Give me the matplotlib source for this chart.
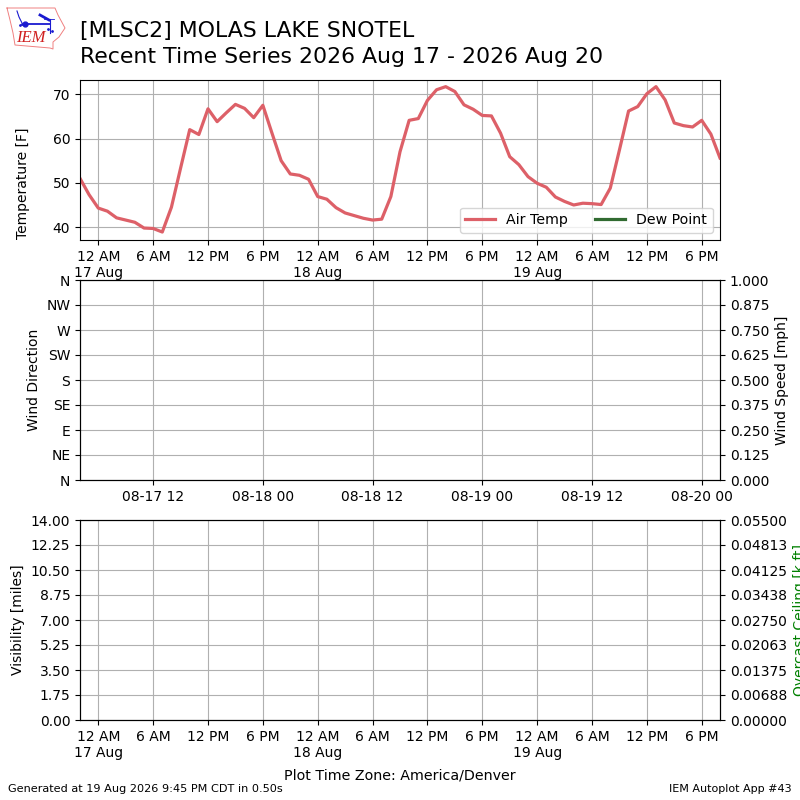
import datetime as dt
from zoneinfo import ZoneInfo
import matplotlib
matplotlib.use("Agg")
import matplotlib.pyplot as plt
import matplotlib.dates as mdates
from matplotlib.ticker import FuncFormatter

TZ = ZoneInfo("America/Denver")
UTC = ZoneInfo("UTC")

start_time = dt.datetime(2026, 8, 16, 22, 0, tzinfo=TZ)
air_temp = [51.0, 47.3, 44.3, 43.6, 42.1, 41.6, 41.1, 39.8, 39.7, 38.9, 44.5, 53.3,
            62.0, 60.9, 66.7, 63.8, 65.8, 67.7, 66.8, 64.7, 67.5, 61.2, 55.0, 52.0,
            51.7, 50.8, 46.9, 46.3, 44.4, 43.2, 42.6, 42.0, 41.6, 41.8, 46.9, 57.0,
            64.1, 64.5, 68.6, 71.0, 71.7, 70.6, 67.6, 66.6, 65.2, 65.1, 61.2, 55.9,
            54.1, 51.4, 49.9, 49.0, 46.8, 45.8, 45.0, 45.4, 45.3, 45.1, 48.8, 57.4,
            66.2, 67.2, 70.1, 71.7, 68.7, 63.5, 62.9, 62.6, 64.1, 61.0, 55.6]
times = [start_time + dt.timedelta(hours=i) for i in range(len(air_temp))]
dew_point = []
dew_times = []

direction_ticks = [0, 45, 90, 135, 180, 225, 270, 315, 360]
direction_labels = ["N", "NE", "E", "SE", "S", "SW", "W", "NW", "N"]
speed_ticks = [0, 0.125, 0.25, 0.375, 0.5, 0.625, 0.75, 0.875, 1.0]
vis_ticks = [0, 1.75, 3.5, 5.25, 7.0, 8.75, 10.5, 12.25, 14.0]
ceil_ticks = [0, 0.006875, 0.01375, 0.020625, 0.0275, 0.034375, 0.04125, 0.048125, 0.055]
temp_ticks = [40, 50, 60, 70]

AIR = "#dd6068"
DEW = "#316b31"
xlim = (times[0], times[-1])


def local_fmt(x, pos=None):
    d = mdates.num2date(x, tz=TZ)
    h = d.hour % 12 or 12
    s = f"{h} {'AM' if d.hour < 12 else 'PM'}"
    if d.hour == 0:
        s += "\n" + d.strftime("%-d %b")
    return s


def local_axis(ax):
    ax.xaxis.set_major_locator(mdates.HourLocator(byhour=[0, 6, 12, 18], tz=TZ))
    ax.xaxis.set_major_formatter(FuncFormatter(local_fmt))
    ax.set_xlim(*xlim)


fig = plt.figure(figsize=(8, 8), dpi=100)
ax1 = fig.add_axes([0.1, 0.7, 0.8, 0.2])
ax2 = fig.add_axes([0.1, 0.4, 0.8, 0.25])
ax3 = fig.add_axes([0.1, 0.1, 0.8, 0.25])

ax1.plot(times, air_temp, color=AIR, lw=2.3, label="Air Temp")
ax1.plot(dew_times, dew_point, color=DEW, lw=2.3, label="Dew Point")
local_axis(ax1)
ax1.set_ylim(37.1, 73.2)
ax1.set_yticks(temp_ticks)
fig.text(0.029, 0.771, "Temperature [F]", rotation=90, fontsize=10, ha="center", va="center")
ax1.grid(True)
ax1.legend(loc="lower right", ncol=2, fontsize=10.2, borderaxespad=0.5,
           handlelength=2.1, columnspacing=1.9)

ax2.set_xlim(*xlim)
ax2.xaxis.set_major_locator(mdates.HourLocator(byhour=[0, 12], tz=UTC))
ax2.xaxis.set_major_formatter(mdates.DateFormatter("%m-%d %H", tz=UTC))
ax2.set_ylim(0, 360)
ax2.set_yticks(direction_ticks)
ax2.set_yticklabels(direction_labels)
ax2.set_ylabel("Wind Direction")
ax2.grid(True)
ax2r = ax2.twinx()
ax2r.set_ylim(0, 1)
ax2r.set_yticks(speed_ticks)
ax2r.yaxis.set_major_formatter(FuncFormatter(lambda v, p: f"{v:.3f}"))
ax2r.set_ylabel("Wind Speed [mph]")

local_axis(ax3)
ax3.set_ylim(0, 14)
ax3.set_yticks(vis_ticks)
ax3.yaxis.set_major_formatter(FuncFormatter(lambda v, p: f"{v:.2f}"))
ax3.set_ylabel("Visibility [miles]")
ax3.set_xlabel("Plot Time Zone: America/Denver", fontsize=10.25, labelpad=6.5)
ax3.grid(True)
ax3r = ax3.twinx()
ax3r.set_ylim(0, 0.055)
ax3r.set_yticks(ceil_ticks)
ax3r.yaxis.set_major_formatter(FuncFormatter(lambda v, p: f"{v:.5f}"))
ax3r.set_ylabel("Overcast Ceiling [k ft]", color="green")

fig.text(0.1, 1 - 31 / 800, "[MLSC2] MOLAS LAKE SNOTEL", fontsize=15.8, va="center", ha="left")
fig.text(0.1, 1 - 57 / 800, "Recent Time Series 2026 Aug 17 - 2026 Aug 20", fontsize=15.8,
         va="center", ha="left")
fig.text(0.01, 0.014, "Generated at 19 Aug 2026 9:45 PM CDT in 0.50s", fontsize=8.15, va="center")
fig.text(0.99, 0.014, "IEM Autoplot App #43", fontsize=8, va="center", ha="right")

# IEM logo (pixel coordinates, y down)
logo = fig.add_axes([0, 0.925, 0.1, 0.075])
logo.set_xlim(0, 80)
logo.set_ylim(60, 0)
logo.axis("off")
outline_x = [7, 55, 58, 65, 59, 53, 53, 50, 15, 13, 10, 7]
outline_y = [8, 8, 15, 28, 37, 42, 49, 48, 45, 33, 20, 8]
logo.plot(outline_x, outline_y, color="#f08080", lw=0.7)
logo.plot([25, 50], [23.5, 23.5], color="#1a1ad0", lw=1.3)
logo.plot([17, 19, 22], [11, 17, 23], color="#1a1ad0", lw=0.8)
logo.plot([40, 49], [15, 20], color="#1a1ad0", lw=2)
logo.plot([44, 54], [19, 19], color="#1a1ad0", lw=0.6)
logo.plot([50, 50], [19, 33], color="#1a1ad0", lw=0.8)
logo.plot([25], [23.5], "o", color="#1a1ad0", ms=3.5)
logo.plot([20, 22, 48, 52], [25, 24, 29, 31], ".", color="#1a1ad0", ms=2)
logo.text(30.5, 38.5, "IEM", color="#d02020", fontsize=12, style="italic",
          family="Liberation Serif", ha="center", va="center")

fig.savefig("out.png", dpi=100)
